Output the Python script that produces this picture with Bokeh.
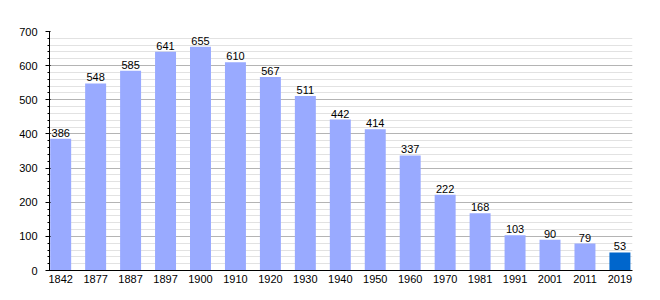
from bokeh.plotting import figure
from bokeh.models import ColumnDataSource, Range1d, FixedTicker, SingleIntervalTicker
from bokeh.embed import file_html
from bokeh.resources import INLINE
from bokeh.core.properties import value

years = ["1842", "1877", "1887", "1897", "1900", "1910", "1920", "1930", "1940",
         "1950", "1960", "1970", "1981", "1991", "2001", "2011", "2019"]
population = [386, 548, 585, 641, 655, 610, 567, 511, 442, 414, 337, 222, 168,
              103, 90, 79, 53]

FONT = "Liberation Sans"
light = "#99aaff"
dark = "#0066cc"

xs = list(range(len(years)))
colors = [light] * (len(years) - 1) + [dark]
src = ColumnDataSource(dict(x=xs, y=population, c=colors,
                            lbl=[str(v) for v in population]))

p = figure(width=660, height=300, output_backend="svg", toolbar_location=None,
           x_range=Range1d(-0.32, len(years) - 1 + 0.36), y_range=Range1d(0, 700),
           min_border_left=49, min_border_right=28, min_border_top=31,
           min_border_bottom=30)
p.outline_line_color = None
p.background_fill_color = "white"
p.border_fill_color = "white"

p.vbar(x="x", top="y", width=0.6, fill_color="c", line_color=None, source=src)
p.text(x="x", y="y", text="lbl", source=src, text_align="center",
       text_baseline="bottom", y_offset=-2, text_font=value(FONT),
       text_font_size="11px", text_color="#000000")

# y axis
p.yaxis.ticker = SingleIntervalTicker(interval=100, num_minor_ticks=5)
p.yaxis.major_tick_out = 4
p.yaxis.major_tick_in = 1
p.yaxis.minor_tick_out = 2
p.yaxis.minor_tick_in = 0
p.yaxis.major_label_standoff = 8
p.yaxis.axis_line_color = "black"
p.yaxis.major_tick_line_color = "black"
p.yaxis.minor_tick_line_color = "black"
p.yaxis.major_label_text_font = FONT
p.yaxis.major_label_text_font_size = "11px"
p.yaxis.major_label_text_color = "black"

# x axis
p.xaxis.ticker = FixedTicker(ticks=xs)
p.xaxis.major_label_overrides = {i: y for i, y in enumerate(years)}
p.xaxis.major_tick_out = 0
p.xaxis.major_tick_in = 0
p.xaxis.minor_tick_line_color = None
p.xaxis.major_label_standoff = 4
p.xaxis.axis_line_color = "black"
p.xaxis.major_label_text_font = FONT
p.xaxis.major_label_text_font_size = "11px"
p.xaxis.major_label_text_color = "black"

p.xgrid.grid_line_color = None
p.ygrid.grid_line_color = "#b4b4b4"
p.ygrid.minor_grid_line_color = "#e2e2e2"
p.ygrid.level = "underlay"

open("out.html", "w").write(file_html(p, INLINE))
